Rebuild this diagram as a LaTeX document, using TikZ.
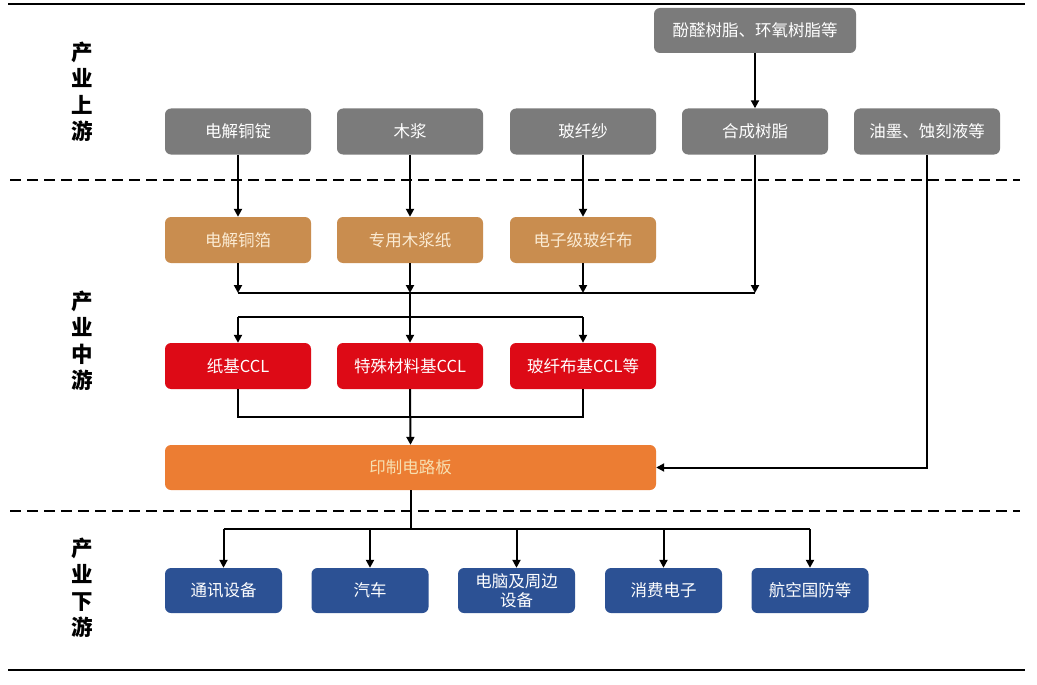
\documentclass[tikz,border=0pt]{standalone}
\usepackage{fontspec}
\setmainfont{Noto Sans CJK SC}
\newfontfamily\cjk{Noto Sans CJK SC}
\usetikzlibrary{arrows.meta}
\definecolor{upgray}{HTML}{7B7B7B}
\definecolor{midtan}{HTML}{C98D4F}
\definecolor{midred}{HTML}{DD0A16}
\definecolor{pcborange}{HTML}{EC7D33}
\definecolor{downblue}{HTML}{2C5194}
\definecolor{creamtext}{HTML}{FBEBD3}
\definecolor{yellowtext}{HTML}{F7DFB0}
\tikzset{
  box/.style={rounded corners=6pt, minimum height=46pt, inner sep=0pt, align=center,
              font=\cjk\fontsize{16.5}{19}\selectfont},
  graybox/.style={box, fill=upgray, text=white, minimum width=146pt},
  tanbox/.style={box, fill=midtan, text=creamtext, minimum width=146pt},
  redbox/.style={box, fill=midred, text=white, minimum width=146pt},
  orangebox/.style={box, fill=pcborange, text=yellowtext, minimum width=491pt, minimum height=45pt},
  bluebox/.style={box, fill=downblue, text=white, minimum width=117pt, minimum height=45pt},
  stage/.style={font=\cjk\bfseries\fontsize{21.5}{26.5}\selectfont, align=center, inner sep=0pt},
  conn/.style={line width=2pt, draw=black},
  arr/.style={conn, -{Triangle[length=8pt,width=8pt]}},
  sep/.style={line width=1.5pt, dash pattern=on 11pt off 6pt},
  rule/.style={line width=2pt}
}
\begin{document}
\begin{tikzpicture}[x=1pt,y=-1pt]
\useasboundingbox (0,0) rectangle (1037,685);
\fill[white] (0,0) rectangle (1037,685);

% frame lines
\coordinate (tl) at (8,4);
\coordinate (tr) at (1025,4);
\coordinate (bl0) at (8,670);
\coordinate (br0) at (1025,670);
\draw[rule] (tl) -- (tr);
\draw[rule] (bl0) -- (br0);
\coordinate (d1l) at (10,180);
\coordinate (d1r) at (1020,180);
\coordinate (d2l) at (10,511);
\coordinate (d2r) at (1020,511);
\draw[sep] (d1l) -- (d1r);
\draw[sep] (d2l) -- (d2r);

% stage labels
\node[stage] (s1) at (82,92) {产\\业\\上\\游};
\node[stage] (s2) at (82,341) {产\\业\\中\\游};
\node[stage] (s3) at (82,588) {产\\业\\下\\游};

% upstream
\node[graybox, minimum width=202pt, minimum height=45pt] (top) at (755,30.5) {酚醛树脂、环氧树脂等};
\node[graybox] (g1) at (238,131.5) {电解铜锭};
\node[graybox] (g2) at (410,131.5) {木浆};
\node[graybox] (g3) at (583,131.5) {玻纤纱};
\node[graybox] (g4) at (755,131.5) {合成树脂};
\node[graybox] (g5) at (927,131.5) {油墨、蚀刻液等};

% midstream
\node[tanbox] (t1) at (238,240) {电解铜箔};
\node[tanbox] (t2) at (410,240) {专用木浆纸};
\node[tanbox] (t3) at (583,240) {电子级玻纤布};
\node[redbox] (r1) at (238,366) {纸基CCL};
\node[redbox] (r2) at (410,366) {特殊材料基CCL};
\node[redbox] (r3) at (583,366) {玻纤布基CCL等};
\node[orangebox] (pcb) at (410.5,467.5) {印制电路板};

% downstream
\node[bluebox] (b1) at (223.5,590.5) {通讯设备};
\node[bluebox] (b2) at (370,590.5) {汽车};
\node[bluebox] (b3) at (516.5,590.5) {电脑及周边\\设备};
\node[bluebox] (b4) at (663.5,590.5) {消费电子};
\node[bluebox] (b5) at (810,590.5) {航空国防等};

% connectors upstream -> midstream
\draw[arr] (top.south) -- (g4.north);
\draw[arr] (g1.south) -- (t1.north);
\draw[arr] (g2.south) -- (t2.north);
\draw[arr] (g3.south) -- (t3.north);

\coordinate (ml) at (0,293);
\coordinate (sl) at (0,317);
\coordinate (jl) at (0,417);
\coordinate (dl) at (0,529);

\draw[arr] (t1.south) -- (t1.south |- ml);
\draw[arr] (t2.south) -- (t2.south |- ml);
\draw[arr] (t3.south) -- (t3.south |- ml);
\draw[arr] (g4.south) -- (g4.south |- ml);
\draw[conn] (t1.south |- ml) -- (g4.south |- ml);
\draw[conn] (t2.south |- ml) -- (t2.south |- sl);
\draw[conn] (r1.north |- sl) -- (r3.north |- sl);
\draw[arr] (r1.north |- sl) -- (r1.north);
\draw[arr] (r2.north |- sl) -- (r2.north);
\draw[arr] (r3.north |- sl) -- (r3.north);

\draw[conn] (r1.south) -- (r1.south |- jl) -- (r3.south |- jl) -- (r3.south);
\draw[arr] (r2.south) -- (pcb.north);

\draw[arr] (g5.south) -- (g5.south |- pcb.east) -- (pcb.east);

% downstream connectors
\draw[conn] (pcb.south) -- (pcb.south |- dl);
\draw[conn] (b1.north |- dl) -- (b5.north |- dl);
\draw[arr] (b1.north |- dl) -- (b1.north);
\draw[arr] (b2.north |- dl) -- (b2.north);
\draw[arr] (b3.north |- dl) -- (b3.north);
\draw[arr] (b4.north |- dl) -- (b4.north);
\draw[arr] (b5.north |- dl) -- (b5.north);
\end{tikzpicture}
\end{document}
